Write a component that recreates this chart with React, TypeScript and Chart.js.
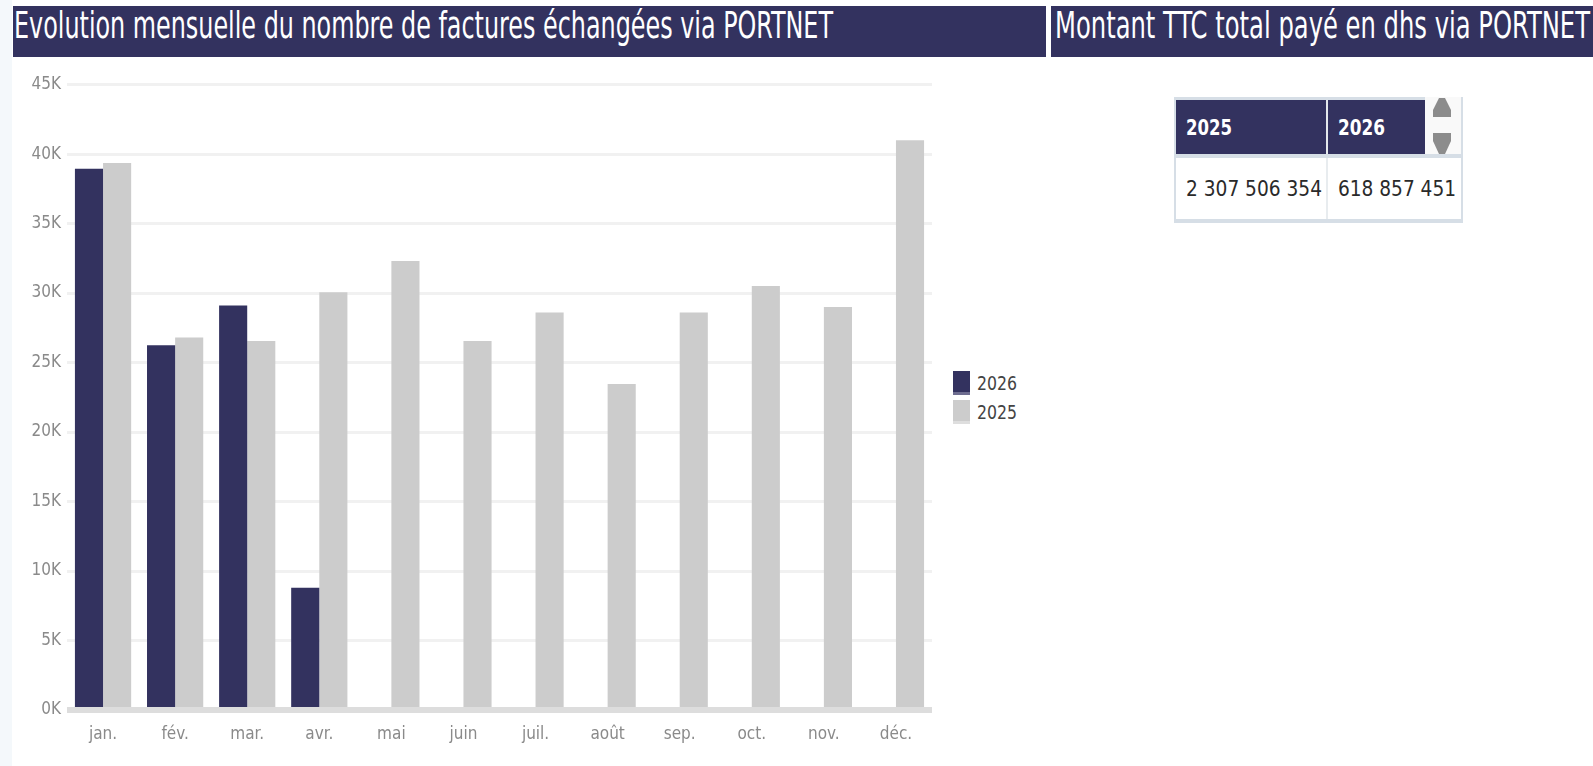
import React, { useEffect, useLayoutEffect, useRef } from 'react';
import { Chart, registerables } from 'chart.js';

Chart.register(...registerables);

// ---------- data ----------
const months = ['jan.', 'fév.', 'mar.', 'avr.', 'mai', 'juin', 'juil.', 'août', 'sep.', 'oct.', 'nov.', 'déc.'];
const values2026: (number | null)[] = [38950, 26250, 29100, 8800, null, null, null, null, null, null, null, null];
const values2025: number[] = [39350, 26800, 26550, 30050, 32300, 26550, 28600, 23450, 28600, 30500, 29000, 41000];
const seriesLabels = ['2026', '2025'];
const seriesColors = ['#33325f', '#cccccc'];
const yMax = 45000;
const yStep = 5000;
const chartTitle = 'Evolution mensuelle du nombre de factures échangées via PORTNET';
const tableTitle = 'Montant TTC total payé en dhs via PORTNET';
const tableHeaders = ['2025', '2026'];
const tableValues = ['2 307 506 354', '618 857 451'];

const FONT = "'Liberation Sans Narrow', 'DejaVu Sans Condensed', 'Roboto Condensed', 'DejaVu Sans', sans-serif";
const NAVY = '#33325f';

function FitText({ text, width, style }: { text: string; width: number; style?: React.CSSProperties }) {
  const ref = useRef<HTMLSpanElement>(null);
  useLayoutEffect(() => {
    const el = ref.current;
    if (!el) return;
    el.style.transform = 'none';
    const w = el.getBoundingClientRect().width;
    if (w > 0) el.style.transform = `scaleX(${width / w})`;
  }, [text, width]);
  return (
    <span
      ref={ref}
      style={{ display: 'inline-block', whiteSpace: 'nowrap', transformOrigin: 'left center', ...style }}
    >
      {text}
    </span>
  );
}

function BarChart() {
  const canvasRef = useRef<HTMLCanvasElement>(null);
  useEffect(() => {
    const canvas = canvasRef.current;
    if (!canvas) return;
    const tickFont = { family: FONT, size: 17 };
    const chart = new Chart(canvas, {
      type: 'bar',
      data: {
        labels: months,
        datasets: [
          { label: seriesLabels[0], data: values2026, backgroundColor: seriesColors[0], borderWidth: 0 },
          { label: seriesLabels[1], data: values2025, backgroundColor: seriesColors[1], borderWidth: 0 },
        ],
      },
      options: {
        animation: false,
        responsive: false,
        layout: { padding: { left: 0, right: 4, top: 24.6, bottom: 16 } },
        datasets: { bar: { categoryPercentage: 0.78, barPercentage: 1 } },
        plugins: { legend: { display: false }, tooltip: { enabled: false } },
        scales: {
          x: {
            grid: { display: false, drawTicks: false },
            border: { display: false },
            ticks: { color: '#8a8a8a', font: tickFont, padding: 14, autoSkip: false, maxRotation: 0 },
            afterFit: (s: any) => { s.height = 40; },
          },
          y: {
            min: 0,
            max: yMax,
            border: { display: false },
            grid: {
              drawTicks: false,
              color: (ctx: any) => (ctx.index === 0 ? '#dddddd' : '#f1f1f1'),
              lineWidth: (ctx: any) => (ctx.index === 0 ? 6 : 3),
            },
            ticks: {
              stepSize: yStep,
              color: '#8a8a8a',
              font: tickFont,
              padding: 6,
              callback: (v: any) => `${Number(v) / 1000}K`,
            },
            afterFit: (s: any) => { s.width = 54; },
          },
        },
      } as any,
    });
    return () => chart.destroy();
  }, []);
  return <canvas ref={canvasRef} width={923} height={706} style={{ width: 923, height: 706, display: 'block' }} />;
}

export default function App() {
  return (
    <div style={{ position: 'absolute', left: 0, top: 0, width: 1593, height: 766, background: '#ffffff', overflow: 'hidden', fontFamily: FONT }}>
      {/* left strip */}
      <div style={{ position: 'absolute', left: 0, top: 0, width: 12, height: 766, background: '#f4f8fb' }} />

      {/* title bars */}
      <div style={{ position: 'absolute', left: 13, top: 6, width: 1033, height: 51, background: NAVY, overflow: 'hidden' }}>
        <div style={{ position: 'absolute', left: 1, top: -0.5, lineHeight: '38px', fontSize: 38, color: '#ffffff' }}>
          <FitText text={chartTitle} width={819} />
        </div>
      </div>
      <div style={{ position: 'absolute', left: 1051, top: 6, width: 542, height: 51, background: NAVY, overflow: 'hidden' }}>
        <div style={{ position: 'absolute', left: 4, top: -0.5, lineHeight: '38px', fontSize: 38, color: '#ffffff' }}>
          <FitText text={tableTitle} width={535} />
        </div>
      </div>

      {/* chart */}
      <div style={{ position: 'absolute', left: 13, top: 60 }}>
        <BarChart />
      </div>

      {/* legend */}
      {seriesLabels.map((lab, i) => (
        <div key={lab} style={{ position: 'absolute', left: 953, top: 371 + i * 29, height: 24, display: 'flex', alignItems: 'center' }}>
          <div style={{ width: 17, height: 24, background: seriesColors[i], boxShadow: `inset 0 -3px 0 ${i === 0 ? '#6e6d90' : '#dedede'}` }} />
          <span style={{ marginLeft: 7, fontSize: 19, lineHeight: '24px', color: '#444444' }}>
            <FitText text={lab} width={40} />
          </span>
        </div>
      ))}

      {/* table */}
      <div style={{ position: 'absolute', left: 1174, top: 97, width: 289, height: 126, background: '#d6dee6' }}>
        <div style={{ position: 'absolute', left: 2, top: 3, width: 150, height: 54, background: NAVY, display: 'flex', alignItems: 'center' }}>
          <span style={{ marginLeft: 10, color: '#fff', fontWeight: 'bold', fontSize: 22 }}>
            <FitText text={tableHeaders[0]} width={46} />
          </span>
        </div>
        <div style={{ position: 'absolute', left: 152, top: 3, width: 2, height: 54, background: '#e4e8ec' }} />
        <div style={{ position: 'absolute', left: 154, top: 3, width: 97, height: 54, background: NAVY, display: 'flex', alignItems: 'center' }}>
          <span style={{ marginLeft: 10, color: '#fff', fontWeight: 'bold', fontSize: 22 }}>
            <FitText text={tableHeaders[1]} width={47} />
          </span>
        </div>
        <div style={{ position: 'absolute', left: 251, top: 0, width: 36, height: 57, background: '#f9f9f9' }}>
          <svg width={36} height={57} style={{ display: 'block' }}>
            <polygon points="8,20 8,13 14,1 20,1 26,13 26,20" fill="#8c8c8c" />
            <polygon points="8,36 26,36 26,44 20,57 14,57 8,44" fill="#8c8c8c" />
          </svg>
        </div>
        <div style={{ position: 'absolute', left: 2, top: 61, width: 150, height: 61, background: '#ffffff', display: 'flex', alignItems: 'center' }}>
          <span style={{ marginLeft: 10, color: '#2a2a2a', fontSize: 22 }}>
            <FitText text={tableValues[0]} width={136} />
          </span>
        </div>
        <div style={{ position: 'absolute', left: 152, top: 61, width: 2, height: 61, background: '#e8ecef' }} />
        <div style={{ position: 'absolute', left: 154, top: 61, width: 133, height: 61, background: '#ffffff', display: 'flex', alignItems: 'center' }}>
          <span style={{ marginLeft: 10, color: '#2a2a2a', fontSize: 22 }}>
            <FitText text={tableValues[1]} width={118} />
          </span>
        </div>
      </div>
    </div>
  );
}
